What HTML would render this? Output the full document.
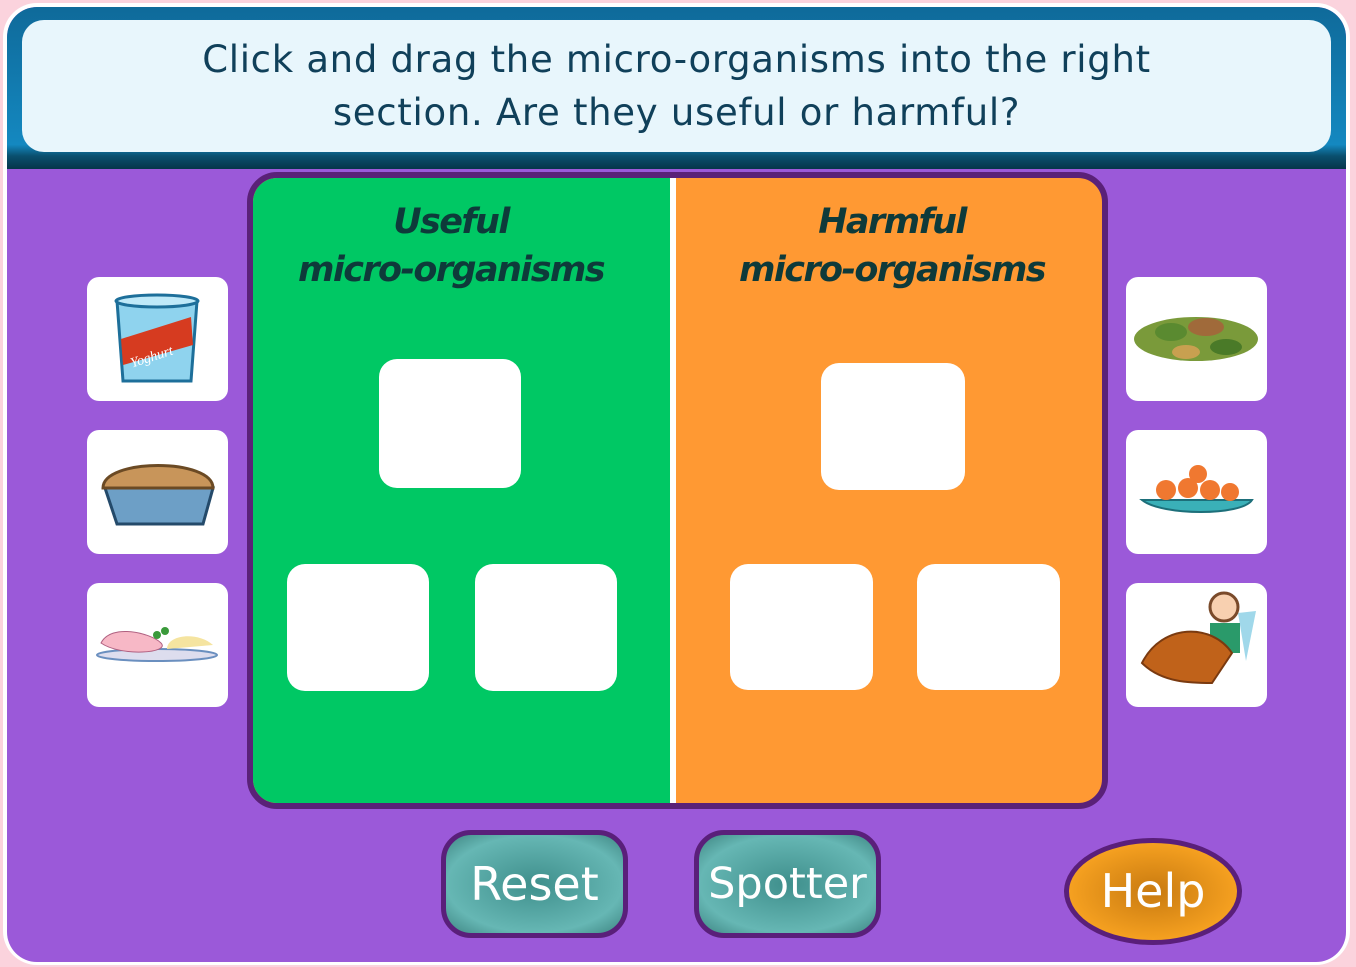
<!DOCTYPE html>
<html><head><meta charset="utf-8"><style>
*{margin:0;padding:0;box-sizing:border-box}
body{width:1356px;height:967px;background:#fbd3dd;position:relative;overflow:hidden;font-family:"DejaVu Sans","Liberation Sans",sans-serif}
.frame{position:absolute;left:3px;top:3px;width:1347px;height:962px;border-radius:34px;background:#fff}
.main{position:absolute;left:7px;top:7px;width:1339px;height:955px;border-radius:30px;background:#9b59d9;overflow:hidden}
.hdr{position:absolute;left:0;top:0;width:1339px;height:162px;background:linear-gradient(#0f6a9a,#1488c0 85%,#0a4f6e 92%,#05354a);border-radius:30px 30px 0 0}
.inner{position:absolute;left:15px;top:13px;width:1309px;height:132px;background:#e8f6fc;border-radius:22px;text-align:center;color:#10405a;font-size:37px;line-height:53px;padding-top:13px;letter-spacing:.7px}
.board{position:absolute;left:247px;top:172px;width:861px;height:637px;border:6px solid #5a2178;border-radius:30px;overflow:hidden;background:#ff9933}
.green{position:absolute;left:0;top:0;width:423px;height:100%;background:#00c864;border-right:6px solid #fff}
.title{position:absolute;font-family:"DejaVu Sans","Liberation Sans",sans-serif;font-weight:bold;font-style:italic;font-size:35px;color:#0e3a3a;text-align:center;line-height:48px;letter-spacing:-1.6px}
.box{position:absolute;background:#fff;border-radius:18px}
.tile{position:absolute;width:141px;height:124px;background:#fff;border-radius:12px}
.btn{position:absolute;border:5px solid #5a1f7a;border-radius:30px;background:radial-gradient(ellipse at center,#3f8f8c,#66b7b4 70%,#3e8582);color:#fff;font-size:46px;text-align:center}
</style></head><body>
<div class="frame"></div>
<div class="main">
<div class="hdr"><div class="inner">Click and drag the micro-organisms into the right<br>section. Are they useful or harmful?</div></div>
</div>
<div class="board"><div class="green"></div></div>
<div class="title" style="left:253px;top:198px;width:396px">Useful<br>micro-organisms</div>
<div class="title" style="left:694px;top:198px;width:396px">Harmful<br>micro-organisms</div>
<div class="box" style="left:379px;top:359px;width:142px;height:129px"></div>
<div class="box" style="left:287px;top:564px;width:142px;height:127px"></div>
<div class="box" style="left:475px;top:564px;width:142px;height:127px"></div>
<div class="box" style="left:821px;top:363px;width:144px;height:127px"></div>
<div class="box" style="left:730px;top:564px;width:143px;height:126px"></div>
<div class="box" style="left:917px;top:564px;width:143px;height:126px"></div>

<div class="tile" style="left:87px;top:277px"><svg width="141" height="124"><path d="M30 24h80l-6 80h-68z" fill="#8fd3ee" stroke="#1d6f9a" stroke-width="3"/><ellipse cx="70" cy="24" rx="41" ry="6" fill="#bfe9f8" stroke="#1d6f9a" stroke-width="3"/><path d="M34 62l70-22 2 28-70 20z" fill="#d63b20"/><text x="40" y="82" transform="rotate(-18 70 70)" fill="#fff" font-size="14" font-style="italic" font-family="Liberation Serif,serif">Yoghurt</text></svg></div>
<div class="tile" style="left:87px;top:430px"><svg width="141" height="124"><path d="M18 58h108l-10 36h-86z" fill="#6d9fc6" stroke="#244a6a" stroke-width="3"/><path d="M16 58c0-30 110-30 110 0z" fill="#c8955a" stroke="#6b4a24" stroke-width="3"/></svg></div>
<div class="tile" style="left:87px;top:583px"><svg width="141" height="124"><ellipse cx="70" cy="72" rx="60" ry="6" fill="#dde" stroke="#6a8fbf" stroke-width="2"/><path d="M14 60c10-20 50-10 60 0s-40 14-60 0z" fill="#f7b8c6" stroke="#b06080"/><path d="M80 66c0-14 30-18 46-4z" fill="#f5e4a0"/><circle cx="70" cy="52" r="4" fill="#3a9a3a"/><circle cx="78" cy="48" r="4" fill="#3a9a3a"/></svg></div>

<div class="tile" style="left:1126px;top:277px"><svg width="141" height="124"><ellipse cx="70" cy="62" rx="62" ry="22" fill="#7a9a3a"/><ellipse cx="45" cy="55" rx="16" ry="9" fill="#5a8a30"/><ellipse cx="80" cy="50" rx="18" ry="9" fill="#a06a3a"/><ellipse cx="100" cy="70" rx="16" ry="8" fill="#4a7a28"/><ellipse cx="60" cy="75" rx="14" ry="7" fill="#c8a050"/></svg></div>
<div class="tile" style="left:1126px;top:430px"><svg width="141" height="124"><path d="M16 70h110c-10 16-90 16-110 0z" fill="#3ab0b8" stroke="#1d6f7a" stroke-width="2"/><circle cx="40" cy="60" r="10" fill="#f07830"/><circle cx="62" cy="58" r="10" fill="#f07830"/><circle cx="84" cy="60" r="10" fill="#f07830"/><circle cx="104" cy="62" r="9" fill="#f07830"/><circle cx="72" cy="44" r="9" fill="#f07830"/></svg></div>
<div class="tile" style="left:1126px;top:583px"><svg width="141" height="124"><path d="M112 30l18-2-10 50z" fill="#a0d8ea"/><circle cx="98" cy="24" r="14" fill="#f8d0b0" stroke="#7a4a2a" stroke-width="3"/><path d="M84 40h30v30h-30z" fill="#2a9a6a"/><path d="M16 80c20-40 70-40 90-10l-20 30c-20 0-50 0-70-20z" fill="#c0621a" stroke="#7a3a10" stroke-width="2"/></svg></div>

<div class="btn" style="left:441px;top:830px;width:187px;height:108px;line-height:98px">Reset</div>
<div class="btn" style="left:694px;top:830px;width:187px;height:108px;line-height:98px;font-size:43px">Spotter</div>
<div class="btn" style="left:1064px;top:838px;width:178px;height:107px;border-radius:50%;line-height:97px;background:radial-gradient(ellipse at center,#c87a10,#f5a020 70%,#b06a10)">Help</div>
</body></html>
